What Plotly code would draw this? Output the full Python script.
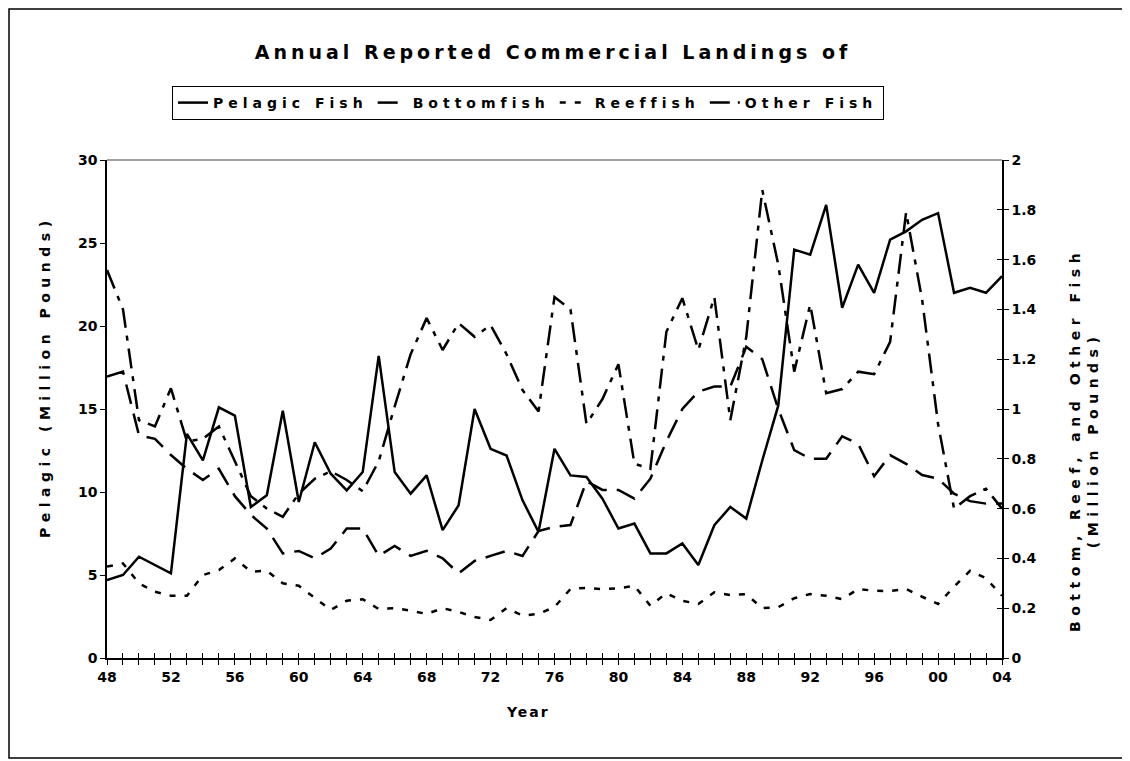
import plotly.graph_objects as go

years = [1948, 1949, 1950, 1951, 1952, 1953, 1954, 1955, 1956, 1957,
         1958, 1959, 1960, 1961, 1962, 1963, 1964, 1965, 1966, 1967,
         1968, 1969, 1970, 1971, 1972, 1973, 1974, 1975, 1976, 1977,
         1978, 1979, 1980, 1981, 1982, 1983, 1984, 1985, 1986, 1987,
         1988, 1989, 1990, 1991, 1992, 1993, 1994, 1995, 1996, 1997,
         1998, 1999, 2000, 2001, 2002, 2003, 2004]

pelagic = [4.7, 5.0, 6.1, 5.6, 5.1, 13.5, 11.9, 15.1, 14.6, 9.1,
           9.8, 14.9, 9.4, 13.0, 11.1, 10.1, 11.2, 18.2, 11.2, 9.9,
           11.0, 7.7, 9.2, 15.0, 12.6, 12.2, 9.5, 7.6, 12.6, 11.0,
           10.9, 9.6, 7.8, 8.1, 6.3, 6.3, 6.9, 5.6, 8.0, 9.1,
           8.4, 11.9, 15.2, 24.6, 24.3, 27.3, 21.1, 23.7, 22.0, 25.2,
           25.7, 26.4, 26.8, 22.0, 22.3, 22.0, 23.0]

bottomfish = [1.13, 1.15, 0.895, 0.88, 0.815, 0.76, 0.715, 0.76, 0.65, 0.575,
              0.52, 0.42, 0.43, 0.40, 0.44, 0.52, 0.52, 0.41, 0.45, 0.41,
              0.43, 0.40, 0.34, 0.39, 0.41, 0.43, 0.41, 0.51, 0.527, 0.534,
              0.71, 0.675, 0.675, 0.64, 0.72, 0.87, 1.0, 1.07, 1.09, 1.09,
              1.25, 1.2, 1.0, 0.835, 0.80, 0.80, 0.89, 0.86, 0.73, 0.815,
              0.78, 0.735, 0.72, 0.66, 0.63, 0.62, 0.62]

reeffish = [0.367, 0.38, 0.30, 0.266, 0.25, 0.25, 0.333, 0.353, 0.40, 0.347,
            0.35, 0.30, 0.29, 0.24, 0.193, 0.23, 0.236, 0.197, 0.20, 0.19,
            0.177, 0.20, 0.185, 0.165, 0.153, 0.20, 0.17, 0.177, 0.205, 0.277,
            0.282, 0.276, 0.28, 0.29, 0.21, 0.26, 0.23, 0.217, 0.264, 0.253,
            0.256, 0.20, 0.204, 0.24, 0.257, 0.25, 0.236, 0.277, 0.27, 0.269,
            0.277, 0.246, 0.217, 0.286, 0.35, 0.32, 0.25]

other_fish = [1.558, 1.40, 0.955, 0.93, 1.083, 0.87, 0.88, 0.93, 0.79, 0.65,
              0.60, 0.567, 0.66, 0.72, 0.75, 0.715, 0.67, 0.79, 1.01, 1.22,
              1.365, 1.237, 1.345, 1.29, 1.337, 1.22, 1.076, 0.99, 1.45, 1.40,
              0.94, 1.04, 1.18, 0.78, 0.76, 1.31, 1.445, 1.237, 1.45, 0.955,
              1.29, 1.88, 1.58, 1.15, 1.42, 1.063, 1.08, 1.15, 1.14, 1.27,
              1.79, 1.44, 0.94, 0.60, 0.65, 0.68, 0.60]

x_tick_years = [1948, 1952, 1956, 1960, 1964, 1968, 1972, 1976, 1980,
                1984, 1988, 1992, 1996, 2000, 2004]
x_tick_labels = ["48", "52", "56", "60", "64", "68", "72", "76", "80",
                 "84", "88", "92", "96", "00", "04"]
left_ticks = [0, 5, 10, 15, 20, 25, 30]
right_ticks = [0, 0.2, 0.4, 0.6, 0.8, 1.0, 1.2, 1.4, 1.6, 1.8, 2.0]
right_tick_labels = ["0", "0.2", "0.4", "0.6", "0.8", "1", "1.2", "1.4",
                     "1.6", "1.8", "2"]

FONT = "DejaVu Sans, Verdana, sans-serif"


def sp(text, px):
    return '<span style="letter-spacing:%spx">%s</span>' % (px, text)


# page is drawn with an 8px body margin
OFF = 8
W, H = 1130 - OFF, 761 - OFF
PX0, PX1, PY0, PY1 = 107, 1002, 160, 658   # plot area in page pixels
L, T = PX0 - OFF, PY0 - OFF
R, B = W - (PX1 - OFF), H - (PY1 - OFF)
PW, PH = PX1 - PX0, PY1 - PY0


def pxx(px):
    return (px - PX0) / PW


def pyy(py):
    return (PY1 - py) / PH


LS = 5.0
fig = go.Figure()
fig.add_trace(go.Scatter(x=years, y=pelagic, name=sp("Pelagic Fish", LS), mode="lines",
                         line=dict(color="black", width=2.5), yaxis="y"))
fig.add_trace(go.Scatter(x=years, y=bottomfish, name=sp("Bottomfish", LS), mode="lines",
                         line=dict(color="black", width=2.5, dash="20px,10px"), yaxis="y2"))
fig.add_trace(go.Scatter(x=years, y=reeffish, name=sp("Reeffish", LS), mode="lines",
                         line=dict(color="black", width=2.5, dash="6px,9px"), yaxis="y2"))
fig.add_trace(go.Scatter(x=years, y=other_fish, name=sp("Other Fish", LS), mode="lines",
                         line=dict(color="black", width=2.5, dash="20px,8px,5px,8px"), yaxis="y2"))
# invisible helper traces so the overlay tick axes are drawn
fig.add_trace(go.Scatter(x=[years[0]], y=[0], xaxis="x2", yaxis="y", mode="markers",
                         marker=dict(opacity=0), showlegend=False, hoverinfo="skip"))
fig.add_trace(go.Scatter(x=[years[0]], y=[0], xaxis="x", yaxis="y3", mode="markers",
                         marker=dict(opacity=0), showlegend=False, hoverinfo="skip"))

tickfont = dict(family=FONT, size=14, color="black", weight="bold")
titlefont = dict(family=FONT, size=14, color="black", weight="bold")

fig.update_layout(
    width=W, height=H,
    margin=dict(l=L, r=R, t=T, b=B, autoexpand=False),
    paper_bgcolor="white", plot_bgcolor="white",
    font=dict(family=FONT, color="black"),
    title=dict(text=sp("Annual Reported Commercial Landings of", 4.0),
               x=pxx(553), xref="paper", xanchor="center",
               y=1 - (52 - OFF) / H, yref="container", yanchor="middle",
               font=dict(family=FONT, size=19, color="black", weight="bold")),
    showlegend=True,
    legend=dict(orientation="h", x=pxx(528), xanchor="center",
                y=pyy(86), yanchor="top", xref="paper", yref="paper",
                bordercolor="black", borderwidth=1, bgcolor="white",
                font=dict(family=FONT, size=14, color="black", weight="bold"),
                itemclick=False, tracegroupgap=0, itemwidth=30),
    xaxis=dict(range=[1948, 2004], tickvals=x_tick_years, ticktext=x_tick_labels,
               ticks="outside", ticklen=5, tickwidth=1, tickcolor="black",
               minor=dict(dtick=1, tick0=1948, ticks="outside", ticklen=5,
                          tickwidth=1, tickcolor="black"),
               showline=True, linecolor="black", linewidth=1.5, showgrid=False,
               zeroline=False, tickfont=tickfont),
    xaxis2=dict(range=[1948, 2004], overlaying="x", anchor="y", side="bottom",
                tick0=1948, dtick=1, ticks="inside", ticklen=5, tickwidth=1,
                tickcolor="black", showticklabels=False, showline=False,
                showgrid=False, zeroline=False),
    yaxis=dict(range=[0, 30], tickvals=left_ticks, ticks="outside", ticklen=5,
               tickwidth=1, tickcolor="black", showline=True, linecolor="black",
               linewidth=1.5, showgrid=False, zeroline=False, tickfont=tickfont),
    yaxis2=dict(range=[0, 2], tickvals=right_ticks, ticktext=right_tick_labels,
                overlaying="y", side="right", anchor="x", ticks="outside",
                ticklen=5, tickwidth=1, tickcolor="black", showline=True,
                linecolor="black", linewidth=1.5, showgrid=False, zeroline=False,
                tickfont=tickfont),
    yaxis3=dict(range=[0, 2], tickvals=right_ticks, overlaying="y", side="right",
                anchor="x", ticks="inside", ticklen=5, tickwidth=1, tickcolor="black",
                showticklabels=False, showline=False, showgrid=False, zeroline=False),
    annotations=[
        dict(text=sp("Year", 2), xref="paper", yref="paper", x=pxx(528), y=pyy(712),
             xanchor="center", yanchor="middle", showarrow=False, font=titlefont),
        dict(text=sp("Pelagic (Million Pounds)", 5.5), xref="paper", yref="paper",
             x=pxx(45), y=pyy(377), xanchor="center", yanchor="middle",
             textangle=-90, showarrow=False, font=titlefont),
        dict(text=sp("Bottom, Reef, and Other Fish", 5.5) + "<br>" +
             sp("(Million Pounds)", 5.5), xref="paper", yref="paper",
             x=pxx(1084), y=pyy(440), xanchor="center", yanchor="middle",
             textangle=-90, showarrow=False, font=titlefont),
    ],
    shapes=[
        dict(type="line", xref="paper", yref="paper", x0=0, x1=1, y0=1, y1=1,
             line=dict(color="#808080", width=1.5)),
        dict(type="rect", xref="paper", yref="paper",
             x0=pxx(OFF + 1), x1=pxx(1127),
             y0=pyy(758), y1=pyy(OFF + 1),
             line=dict(color="black", width=1.5), fillcolor="rgba(0,0,0,0)"),
    ],
)

fig.write_html("out.html")
